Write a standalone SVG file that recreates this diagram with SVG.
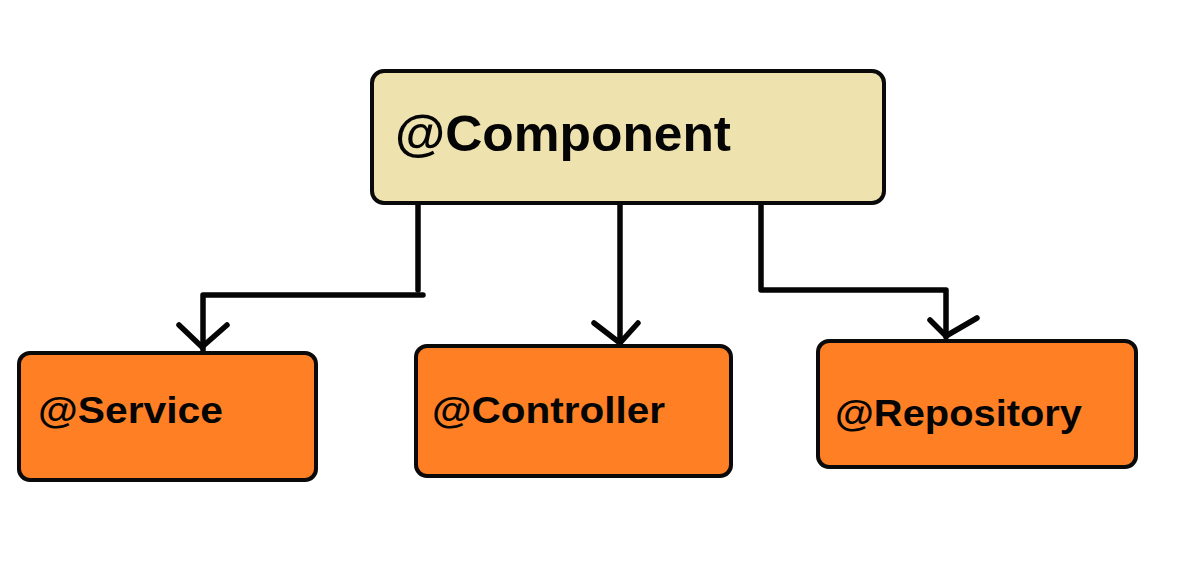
<svg xmlns="http://www.w3.org/2000/svg" width="1200" height="563" viewBox="0 0 1200 563">
<style>
.box{stroke:#0a0a0a;stroke-width:4}
.top{fill:#EEE2AF}
.leaf{fill:#FF8024}
.lbl{font-family:"Liberation Sans",Arial,sans-serif;font-weight:bold;fill:#050505}
.con{fill:none;stroke:#050505;stroke-width:5.5;stroke-linecap:round;stroke-linejoin:round}
</style>
<rect width="1200" height="563" fill="#ffffff"/>
<g id="connectors">
<path class="con" d="M418,205 V290"/>
<path class="con" d="M423,295 H203 V350"/>
<path class="con" d="M179,325 L202,347 L227,325"/>
<path class="con" d="M620,205 V343"/>
<path class="con" d="M594,323 L620,343 L638,323"/>
<path class="con" d="M761,205 V290 H946 V337"/>
<path class="con" d="M930,320 L946,336 L977,318"/>
</g>
<g id="component">
<rect class="box top" x="372" y="71" width="512" height="132" rx="12"/>
<text class="lbl" x="395" y="151" font-size="50" textLength="336" lengthAdjust="spacingAndGlyphs">@Component</text>
</g>
<g id="service">
<rect class="box leaf" x="19" y="353" width="297" height="127" rx="11"/>
<text class="lbl" x="38" y="423" font-size="36" textLength="185" lengthAdjust="spacingAndGlyphs">@Service</text>
</g>
<g id="controller">
<rect class="box leaf" x="416" y="346" width="315" height="130" rx="11"/>
<text class="lbl" x="432" y="423" font-size="36" textLength="233" lengthAdjust="spacingAndGlyphs">@Controller</text>
</g>
<g id="repository">
<rect class="box leaf" x="818" y="341" width="318" height="126" rx="11"/>
<text class="lbl" x="835" y="426" font-size="36" textLength="247" lengthAdjust="spacingAndGlyphs">@Repository</text>
</g>
</svg>
